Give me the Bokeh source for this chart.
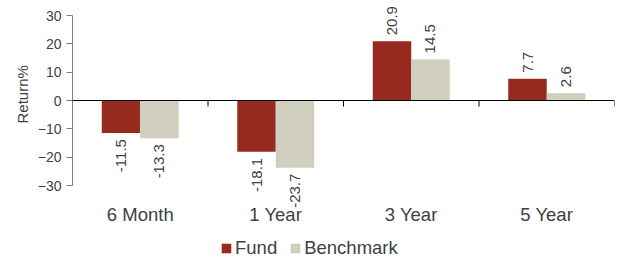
from bokeh.plotting import figure
from bokeh.models import ColumnDataSource, FixedTicker, Span, Legend, LegendItem, Range1d, Title
from bokeh.embed import file_html
from bokeh.resources import INLINE
from bokeh.core.properties import value

categories = ["6 Month", "1 Year", "3 Year", "5 Year"]
fund = [-11.5, -18.1, 20.9, 7.7]
benchmark = [-13.3, -23.7, 14.5, 2.6]
y_ticks = [-30, -20, -10, 0, 10, 20, 30]

FUND_COLOR = "#952A1F"
BENCH_COLOR = "#D0CEBC"
TEXT_COLOR = "#3F3F3F"
FONT = "Liberation Sans"

W = 0.284
centers = [i + 0.5 for i in range(len(categories))]

# layout (pixels): axis span from 15px to 185px of a 259px-tall frame
H, TOP_PX, AX_PX = 259, 15, 170
y_lo, y_hi = y_ticks[0], y_ticks[-1]
k = AX_PX / (y_hi - y_lo)
y_start = y_lo - (H - TOP_PX - AX_PX) / k
y_end = y_hi + TOP_PX / k

p = figure(width=622, height=H, output_backend="svg", toolbar_location=None,
           x_range=Range1d(0, len(categories)), y_range=Range1d(y_start, y_end),
           x_axis_location=None,
           min_border_left=72, min_border_right=8, min_border_top=0, min_border_bottom=0)
p.outline_line_color = None
p.grid.visible = False

def src(vals, offset):
    return ColumnDataSource(dict(
        x=[c + offset for c in centers],
        top=[max(v, 0) for v in vals],
        bottom=[min(v, 0) for v in vals],
        val=vals,
        lab=[f"{v:.1f}" for v in vals],
        align=["left" if v >= 0 else "right" for v in vals],
        yoff=[-6 if v >= 0 else 6 for v in vals],
    ))

fs = src(fund, -W / 2)
bs = src(benchmark, W / 2)

r1 = p.vbar(x="x", top="top", bottom="bottom", width=W, source=fs,
            fill_color=FUND_COLOR, line_color=None)
r2 = p.vbar(x="x", top="top", bottom="bottom", width=W, source=bs,
            fill_color=BENCH_COLOR, line_color=None)

# zero line and category boundary ticks
p.add_layout(Span(location=0, dimension="width", line_color="black", line_width=1))
tick_len = 6 / k
bounds = list(range(len(categories) + 1))
p.segment(x0=bounds, x1=bounds, y0=[0] * len(bounds), y1=[-tick_len] * len(bounds),
          line_color="black", line_width=1)

# category labels below the axis minimum
p.text(x=centers, y=[y_lo] * len(centers), text=categories, y_offset=18,
       text_align="center", text_baseline="top",
       text_font=value(FONT), text_font_size="18.5px", text_color=TEXT_COLOR)

# value labels
for s in (fs, bs):
    p.text(x="x", y="val", text="lab", source=s, angle=1.5708,
           text_align="align", text_baseline="middle", y_offset="yoff",
           text_font=value(FONT), text_font_size="15px", text_color=TEXT_COLOR)

ya = p.yaxis[0]
ya.ticker = FixedTicker(ticks=y_ticks)
ya.bounds = (y_lo, y_hi)
ya.axis_line_color = "#7F7F7F"
ya.major_tick_line_color = "#7F7F7F"
ya.major_tick_out = 6
ya.major_tick_in = 0
ya.minor_tick_line_color = None
ya.major_label_text_font = FONT
ya.major_label_text_font_size = "14px"
ya.major_label_text_color = TEXT_COLOR
ya.major_label_standoff = 5

p.add_layout(Title(text="Return%", align="left", offset=136,
                   text_font=FONT, text_font_size="15px", text_font_style="normal",
                   text_color=TEXT_COLOR, standoff=7), "left")

legend = Legend(items=[LegendItem(label="Fund", renderers=[r1]),
                       LegendItem(label="Benchmark", renderers=[r2])],
                orientation="horizontal", location=(148, 0),
                label_text_font=FONT, label_text_font_size="18.5px",
                label_text_color=TEXT_COLOR, glyph_width=12, glyph_height=12,
                label_standoff=3, spacing=12, padding=0, margin=0,
                border_line_color=None, background_fill_alpha=0)
p.add_layout(legend, "center")

open("out.html", "w").write(file_html(p, INLINE))
